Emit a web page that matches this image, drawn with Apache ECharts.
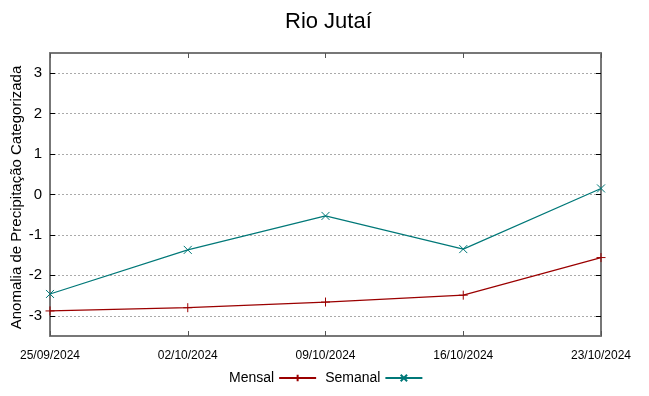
<!DOCTYPE html>
<html><head><meta charset="utf-8">
<script src="https://cdn.jsdelivr.net/npm/echarts@6/dist/echarts.min.js"></script>
<style>html,body{margin:0;padding:0;background:#fff}#c{width:649px;height:396px}</style>
</head><body><div id="c"></div>
<script>
const dates = ['25/09/2024','02/10/2024','09/10/2024','16/10/2024','23/10/2024'];
const mensal = [-2.88, -2.80, -2.66, -2.49, -1.56];
const semanal = [-2.46, -1.37, -0.53, -1.35, 0.15];
const yTicks = [-3, -2, -1, 0, 1, 2, 3];

const font = 'Liberation Sans, Arial, sans-serif';
const plusPath = 'path://M0,5L10,5M5,0L5,10';
const crossPath = 'path://M0,0L10,10M10,0L0,10';
const chart = echarts.init(document.getElementById('c'), null, {renderer:'canvas'});
chart.setOption({
  animation: false,
  backgroundColor: '#fff',
  title: { text: 'Rio Jutaí', left: 280, top: 6,
    textStyle: { fontFamily: font, fontSize: 22, fontWeight: 'normal', color: '#000' } },
  legend: {
    bottom: 6, left: 224, align: 'right', itemWidth: 37, itemHeight: 8, itemGap: 8,
    textStyle: { fontFamily: font, fontSize: 14, color: '#000' },
    data: ['Mensal', 'Semanal']
  },
  grid: { left: 50, right: 48, top: 53, bottom: 60, containLabel: false, outerBoundsMode: 'none' },
  xAxis: [{
    type: 'category', data: dates, boundaryGap: false,
    axisLine: { onZero: false, lineStyle: { color: '#777', width: 2 } },
    axisTick: { inside: true, length: 5, lineStyle: { color: '#555' } },
    axisLabel: { fontFamily: font, fontSize: 12, color: '#000', margin: 14, showMinLabel: true, showMaxLabel: true, interval: 0 },
    splitLine: { show: false }
  }, {
    type: 'category', data: dates, boundaryGap: false, position: 'top',
    axisLine: { onZero: false, lineStyle: { color: '#777', width: 2 } },
    axisTick: { inside: true, length: 5, lineStyle: { color: '#555' } },
    axisLabel: { show: false }, splitLine: { show: false }
  }],
  yAxis: [{
    type: 'value', min: -3.5, max: 3.5,
    axisLine: { show: true, onZero: false, lineStyle: { color: '#777', width: 2 } },
    axisTick: { show: true, inside: true, length: 5, lineStyle: { color: '#000' }, customValues: yTicks },
    axisLabel: { fontFamily: font, fontSize: 15, color: '#000', margin: 8, customValues: yTicks },
    splitLine: { show: true, lineStyle: { color: '#aaa', type: [2, 2], width: 1 } },
    name: 'Anomalia de Precipitação Categorizada', nameLocation: 'middle', nameGap: 26,
    nameMoveOverlap: false,
    nameTextStyle: { fontFamily: font, fontSize: 15, color: '#000', padding: [0, 6, 0, 0] }
  }, {
    type: 'value', min: -3.5, max: 3.5, position: 'right',
    axisLine: { show: true, onZero: false, lineStyle: { color: '#777', width: 2 } },
    axisTick: { show: true, inside: true, length: 5, lineStyle: { color: '#000' }, customValues: yTicks },
    axisLabel: { show: false }, splitLine: { show: false }
  }],
  series: [{
    name: 'Mensal', type: 'line', data: mensal, color: '#9b0000',
    symbol: plusPath, symbolSize: 9, showSymbol: true,
    lineStyle: { width: 1.2, color: '#9b0000' },
    itemStyle: { color: '#9b0000', borderColor: '#9b0000', borderWidth: 1 }
  }, {
    name: 'Semanal', type: 'line', data: semanal, color: '#007878',
    symbol: crossPath, symbolSize: 8, showSymbol: true,
    lineStyle: { width: 1.2, color: '#007878' },
    itemStyle: { color: '#007878', borderColor: '#007878', borderWidth: 1 }
  }]
});
</script></body></html>
